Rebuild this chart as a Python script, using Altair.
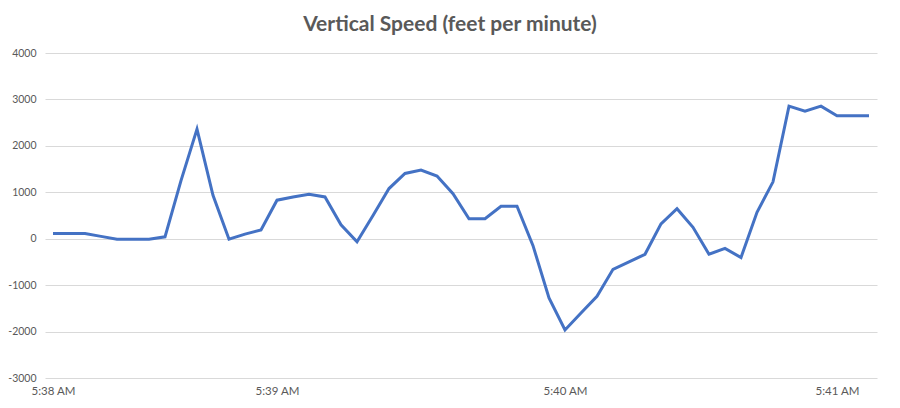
import altair as alt
import pandas as pd

# vertical speed values, one per sample (feet per minute)
speed = [110, 110, 110, 50, -10, -10, -10, 40, 1250, 2360,
         935, -10, 100, 190, 830, 900, 955, 900, 300, -65,
         500, 1080, 1405, 1480, 1350, 970, 430, 430, 700, 700,
         -150, -1275, -1965, -1600, -1240, -660, -500, -335, 320, 645,
         245, -335, -210, -405, 570, 1225, 2855, 2745, 2855, 2650,
         2650, 2650]
sample = list(range(len(speed)))

tick_pos = [0, 14, 32, 49]
tick_labels = ["5:38 AM", "5:39 AM", "5:40 AM", "5:41 AM"]
title_text = "Vertical Speed (feet per minute)"

df = pd.DataFrame({"i": sample, "v": speed})

label_expr = " : ".join(
    [f"datum.value == {p} ? '{l}'" for p, l in zip(tick_pos, tick_labels)]
) + " : ''"

FONT = "Lato"
GREY = "#595959"

line = alt.Chart(df).mark_line(color="#4472C4", strokeWidth=3).encode(
    x=alt.X("i:Q",
            scale=alt.Scale(domain=[-0.5, len(speed) - 0.5], nice=False, zero=False),
            axis=alt.Axis(values=tick_pos, labelExpr=label_expr, title=None,
                          grid=False, domain=False, ticks=False,
                          labelColor=GREY, labelFontSize=11.5, labelFont=FONT,
                          labelPadding=7, labelAngle=0)),
    y=alt.Y("v:Q",
            scale=alt.Scale(domain=[-3000, 4000], nice=False),
            axis=alt.Axis(values=list(range(-3000, 4001, 1000)),
                          labelExpr="datum.value + ''",
                          title=None,
                          grid=True, gridColor="#d9d9d9", gridWidth=1,
                          domain=False, ticks=False,
                          labelColor=GREY, labelFontSize=10.5, labelFont=FONT,
                          labelPadding=9)),
)

title = alt.Chart(pd.DataFrame({"t": [title_text]})).mark_text(
    font=FONT, fontSize=21, fontWeight="bold", color=GREY,
    align="center", baseline="alphabetic"
).encode(text="t:N", x=alt.value(405), y=alt.value(-22))

chart = alt.layer(line, title).properties(
    width=832, height=325,
    autosize=alt.AutoSizeParams(type="none"),
    padding={"left": 37, "top": 45, "right": 15, "bottom": 22},
).configure(background="white").configure_view(stroke=None)

chart.save("out.html", embed_options={"renderer": "svg", "actions": False})
